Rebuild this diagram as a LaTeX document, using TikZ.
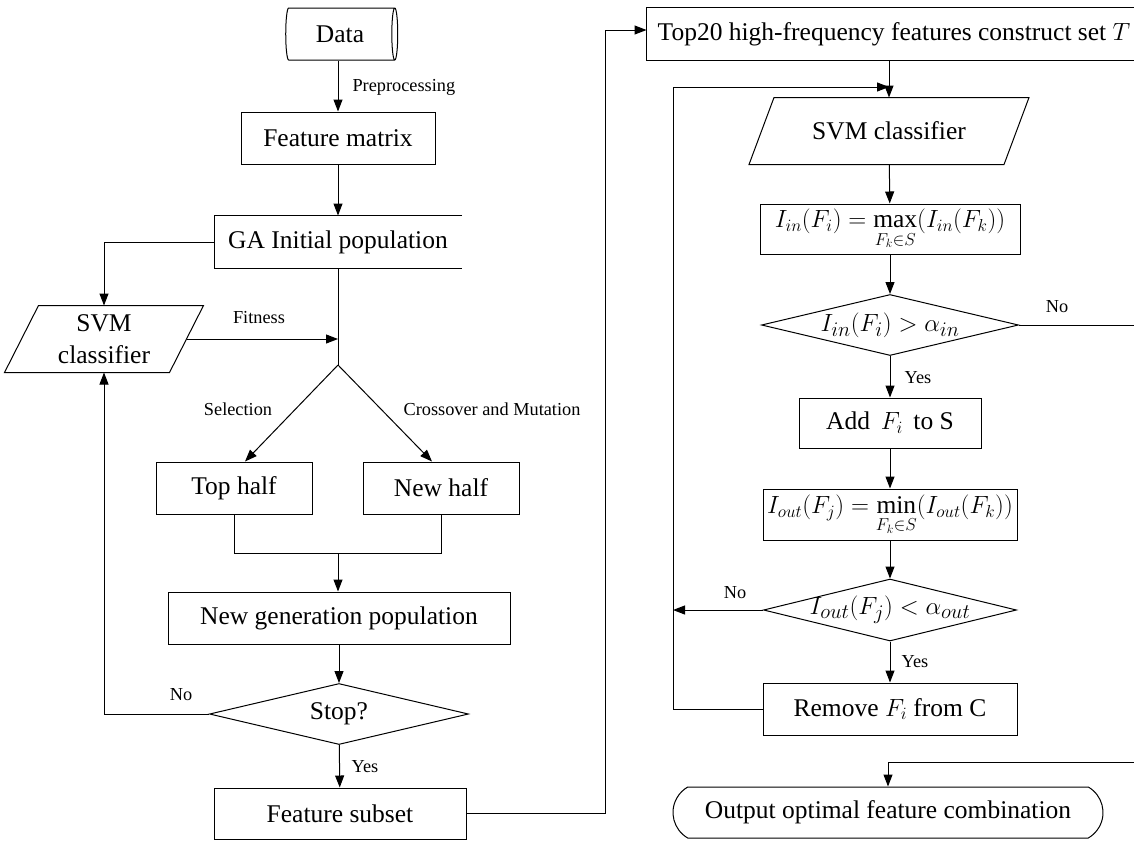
\documentclass[tikz,border=0pt]{standalone}
\usepackage{fontspec}
\setmainfont{Liberation Serif}
\usetikzlibrary{shapes.geometric,shapes.misc,arrows.meta}
\newcommand\fmain{\fontsize{25.5pt}{32pt}\selectfont}
\newcommand\fbig{\fontsize{29pt}{34pt}\selectfont}
\newcommand\fsmall{\fontsize{18.3pt}{22pt}\selectfont}
\begin{document}
\begin{tikzpicture}[x=1pt,y=-1pt,line width=1pt,
  box/.style={draw,rectangle,inner sep=0pt,minimum height=52pt,font=\fmain},
  plain/.style={rectangle,inner sep=0pt,minimum height=52pt,font=\fmain},
  dia/.style={draw,diamond,inner sep=0pt},
  txt/.style={inner sep=0pt,font=\fmain},
  lbl/.style={inner sep=0pt,font=\fsmall},
  arr/.style={-{Triangle[length=12pt,width=9pt]}}]
\fill[white] (0,0) rectangle (1134,841);
\path[use as bounding box,clip] (0,0) rectangle (1134,841);

% ---------- left column ----------
\node[draw,cylinder,shape border rotate=0,aspect=0.35,minimum width=52pt,minimum height=112pt,inner sep=0pt,font=\fmain] (data) at (340,34) {Data};
\node[lbl,anchor=west] (pre) at (352,87) {Preprocessing};
\node[box,minimum width=194pt] (featm) at (338,138) {Feature matrix};
\node[plain,minimum width=247pt] (ga) at (338,242) {GA Initial population};
\draw (ga.north east) -- (ga.north west) -- (ga.south west) -- (ga.south east);
\node[txt,minimum width=164pt,minimum height=66pt,align=center] (svm1) at (104,339) {SVM\\classifier};
\draw ([xshift=17pt]svm1.north west) -- ([xshift=17pt]svm1.north east) -- ([xshift=-17pt]svm1.south east) -- ([xshift=-17pt]svm1.south west) -- cycle;
\coordinate (fit) at (338,339);
\node[lbl] (fitl) at (259,318) {Fitness};
\coordinate (apex) at (338,365);
\node[lbl] (sel) at (238,409) {Selection};
\node[lbl] (cm) at (492,409) {Crossover and Mutation};
\node[box,minimum width=156pt] (top) at (234,488) {Top half};
\node[box,minimum width=156pt] (new) at (441,488) {New half};
\coordinate (join) at (338,553);
\node[box,minimum width=342pt] (ngp) at (339,618) {New generation population};
\node[dia,minimum width=259pt,minimum height=61pt,shape aspect=4.25] (stop) at (339,714) {};
\node[txt] (stopt) at (stop) {Stop?};
\node[lbl] (no0) at (181,695) {No};
\node[lbl] (yes0) at (365,767) {Yes};
\node[box,minimum width=252pt,minimum height=51pt] (fs) at (340,813.5) {Feature subset};
\coordinate (feed) at (605,30);

% ---------- right column ----------
\node[plain,minimum width=494pt] (top20) at (894,34) {Top20 high-frequency features construct set $T$};
\draw (top20.north east) -- (top20.north west) -- (top20.south west) -- (top20.south east);
\node[txt,minimum width=254pt,minimum height=66pt] (svm2) at (889,131) {SVM classifier};
\draw ([xshift=12.5pt]svm2.north west) -- ([xshift=12.5pt]svm2.north east) -- ([xshift=-12.5pt]svm2.south east) -- ([xshift=-12.5pt]svm2.south west) -- cycle;
\coordinate (back) at (673,87);
\node[box,minimum width=260pt,minimum height=50pt] (iin) at (890,229) {$I_{in}(F_i)=\max\limits_{\rule{0pt}{1.3ex}F_k\in S}(I_{in}(F_k))$};
\node[dia,minimum width=257pt,minimum height=61pt,shape aspect=4.2] (d1) at (890,325) {};
\node[txt,font=\fbig] (d1t) at (d1) {$I_{in}(F_i)>\alpha_{in}$};
\coordinate (noR) at (1134,325);
\node[lbl] (no1) at (1057,307) {No};
\node[lbl] (yes1) at (918,378) {Yes};
\node[box,minimum width=182pt,minimum height=50pt] (add) at (890,423) {Add \,$F_i$\, to S};
\node[box,minimum width=254pt,minimum height=51pt] (iout) at (890,514.5) {$I_{out}(F_j)=\min\limits_{\rule{0pt}{1.3ex}F_k\in S}(I_{out}(F_k))$};
\node[dia,minimum width=253pt,minimum height=62pt,shape aspect=4.1] (d2) at (890,610) {};
\node[txt,font=\fbig] (d2t) at (d2) {$I_{out}(F_j)<\alpha_{out}$};
\node[lbl] (no2) at (735,593) {No};
\node[lbl] (yes2) at (915,662) {Yes};
\node[box,minimum width=254pt,minimum height=52pt] (rem) at (890,709) {Remove $F_i$ from C};
\coordinate (outR) at (1134,762);
\node[draw,rounded rectangle,rounded rectangle arc length=120,minimum width=430pt,minimum height=51pt,inner sep=0pt,font=\fmain] (out) at (888,812.5) {Output optimal feature combination};

% ---------- connectors ----------
\draw[arr] (data.south -| featm.north) -- (featm.north);
\draw[arr] (featm) -- (ga);
\draw[arr] (ga.west) -| (svm1.north);
\draw[arr] (svm1.east) -- (fit);
\draw (ga.south) -- (apex);
\draw[arr] (apex) -- ([xshift=11pt]top.north);
\draw[arr] (apex) -- ([xshift=-9pt]new.north);
\draw (top.south) |- (join) -| (new.south);
\draw[arr] (join) -- (join |- ngp.north);
\draw[arr] (ngp) -- (stop);
\draw[arr] (stop.west) -| (svm1.south);
\draw[arr] (stop) -- (fs);
\draw[arr] (fs.east) -| (feed) -- (feed -| top20.west);
\draw[arr] (top20.south -| svm2.north) -- (svm2.north);
\draw[arr] (back) -- (back -| svm2.north);
\draw[arr] (svm2) -- (iin);
\draw[arr] (iin) -- (d1);
\draw (d1.east) -- (noR);
\draw[arr] (d1) -- (add);
\draw[arr] (add) -- (iout);
\draw[arr] (iout) -- (d2);
\draw[arr] (d2.west) -- (d2.west -| back);
\draw[arr] (d2) -- (rem);
\draw (rem.west) -| (back);
\draw[arr] (outR) -| (out.north);
\end{tikzpicture}
\end{document}
